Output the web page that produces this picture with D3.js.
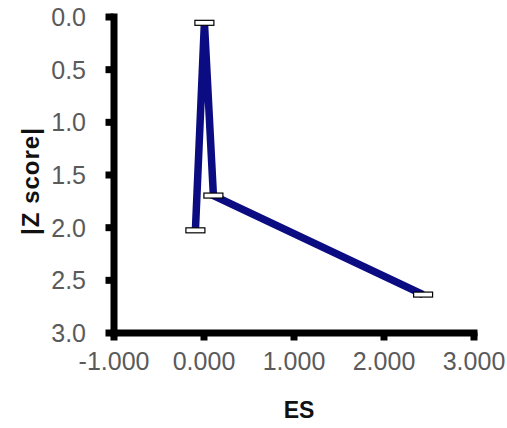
<!DOCTYPE html>
<html>
<head>
<meta charset="utf-8">
<script src="https://cdn.jsdelivr.net/npm/d3@7/dist/d3.min.js"></script>
<style>
  html, body { margin: 0; padding: 0; background: #fff; }
  svg { display: block; }
  .tick text { font-family: "Liberation Sans", Arial, sans-serif; fill: #5a5a5a; }
  .title { font-family: "Liberation Sans", Arial, sans-serif; font-weight: bold; fill: #111; }
</style>
</head>
<body>
<svg id="chart" width="507" height="428"></svg>
<script>
// Effect size (ES) against absolute Z score, in plotting order
const esValues = [-0.09, 0.01, 0.11, 2.44];
const zValues = [2.03, 0.06, 1.70, 2.64];

const xTicks = [-1, 0, 1, 2, 3];
const yTicks = [0, 0.5, 1, 1.5, 2, 2.5, 3];

const xLabel = "ES";
const yLabel = "|Z score|";

const svg = d3.select("#chart");

const x = d3.scaleLinear().domain([-1, 3]).range([113.5, 473.5]);
const y = d3.scaleLinear().domain([0, 3]).range([16.5, 332.5]);

const axisWidth = 7;

// Y axis (inverted: 0 at top)
const yAxis = svg.append("g")
  .attr("transform", `translate(${x(-1)},0)`)
  .call(d3.axisLeft(y)
    .tickValues(yTicks)
    .tickSizeInner(8)
    .tickSizeOuter(0)
    .tickPadding(19.5)
    .tickFormat(d => d.toFixed(1)));

// X axis
const xAxis = svg.append("g")
  .attr("transform", `translate(0,${y(3)})`)
  .call(d3.axisBottom(x)
    .tickValues(xTicks)
    .tickSizeInner(8)
    .tickSizeOuter(0)
    .tickPadding(12)
    .tickFormat(d => d.toFixed(3)));

[yAxis, xAxis].forEach(g => {
  g.attr("font-family", null).attr("font-size", null);
  g.select(".domain")
    .attr("stroke", "#000")
    .attr("stroke-width", axisWidth)
    .attr("stroke-linecap", "square");
  g.selectAll(".tick line")
    .attr("stroke", "#000")
    .attr("stroke-width", axisWidth);
  g.selectAll(".tick text")
    .attr("font-size", 25);
});
yAxis.selectAll(".tick text").attr("dy", "0.36em");

// Data line
const line = d3.line()
  .x((d, i) => x(esValues[i]))
  .y((d, i) => y(zValues[i]));

svg.append("path")
  .datum(esValues)
  .attr("d", line)
  .attr("fill", "none")
  .attr("stroke", "#0b0b82")
  .attr("stroke-width", 7.5)
  .attr("stroke-linejoin", "miter");

// Dash-shaped point markers
const mw = 19, mh = 5;
svg.append("g").selectAll("rect")
  .data(esValues)
  .join("rect")
  .attr("x", (d, i) => x(esValues[i]) - mw / 2)
  .attr("y", (d, i) => y(zValues[i]) - mh / 2)
  .attr("width", mw)
  .attr("height", mh)
  .attr("fill", "#fff")
  .attr("stroke", "#000")
  .attr("stroke-width", 1.2);

// Axis titles
svg.append("text")
  .attr("class", "title")
  .attr("x", 299)
  .attr("y", 418)
  .attr("text-anchor", "middle")
  .attr("font-size", 23)
  .text(xLabel);

svg.append("text")
  .attr("class", "title")
  .attr("transform", "translate(39,181) rotate(-90)")
  .attr("text-anchor", "middle")
  .attr("font-size", 24)
  .attr("letter-spacing", "1px")
  .text(yLabel);
</script>
</body>
</html>
